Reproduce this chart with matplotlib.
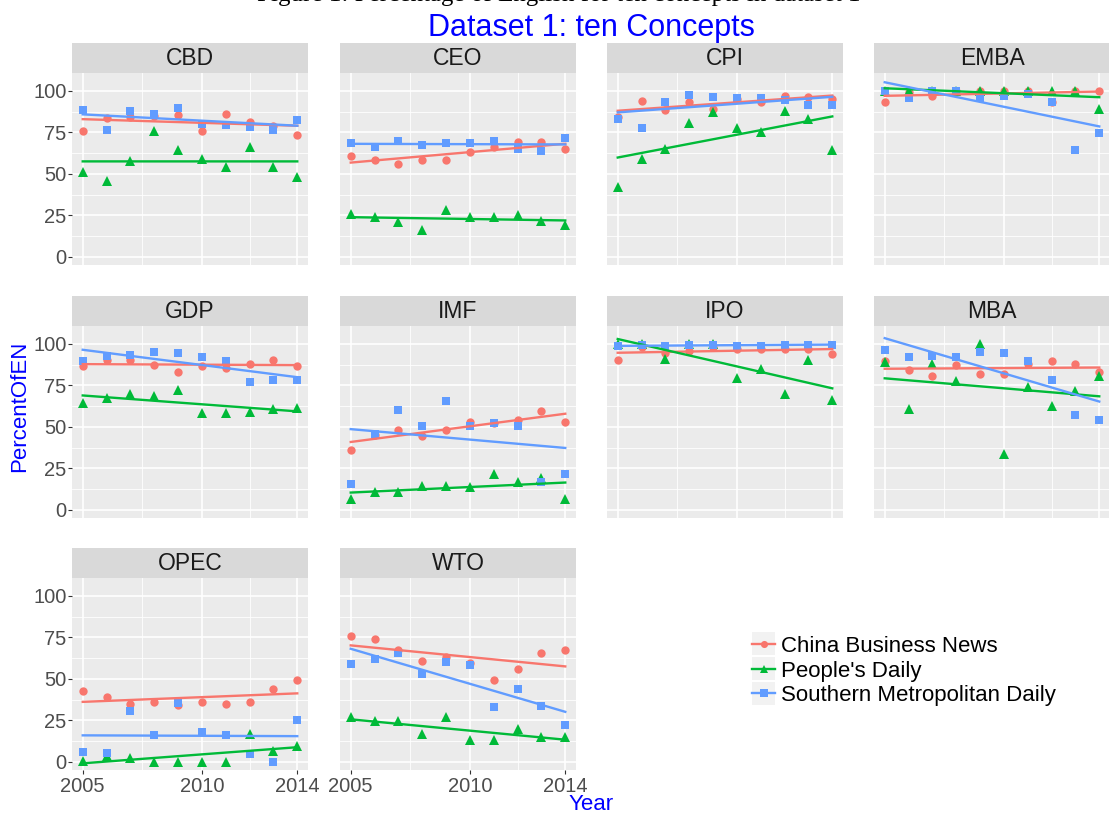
import matplotlib
matplotlib.use("Agg")
import matplotlib.pyplot as plt
import numpy as np
from matplotlib.lines import Line2D
from matplotlib.patches import Rectangle

plt.rcParams['font.family'] = ['Liberation Sans', 'DejaVu Sans']

years = list(range(2005, 2015))
concepts = ["CBD", "CEO", "CPI", "EMBA", "GDP", "IMF", "IPO", "MBA", "OPEC", "WTO"]
series_names = ["China Business News", "People's Daily", "Southern Metropolitan Daily"]

# China Business News (cbn), People's Daily (pd), Southern Metropolitan Daily (smd)
cbd_cbn = [75.9, 83.5, 84.0, 85.0, 85.3, 75.9, 86.3, 81.5, 79.0, 73.3]
cbd_pd = [50.8, 45.8, 57.8, 75.9, 64.1, 58.8, 54.0, 65.9, 54.0, 47.8]
cbd_smd = [88.2, 76.3, 87.6, 86.1, 89.6, 79.9, 79.3, 78.1, 76.5, 82.7]

ceo_cbn = [60.8, 58.4, 55.8, 58.4, 58.4, 63.3, 65.9, 69.3, 69.1, 65.1]
ceo_pd = [25.9, 24.1, 20.7, 15.9, 28.1, 24.1, 24.1, 24.9, 21.7, 19.1]
ceo_smd = [68.5, 66.3, 69.9, 67.3, 68.3, 68.5, 69.9, 65.1, 63.5, 71.7]

cpi_cbn = [84.0, 94.0, 88.4, 93.4, 89.0, 95.0, 93.6, 97.2, 96.4, 95.2]
cpi_pd = [42.2, 59.0, 64.9, 80.7, 87.1, 77.9, 75.3, 88.0, 82.9, 64.1]
cpi_smd = [83.3, 77.7, 93.2, 97.6, 96.2, 96.0, 95.8, 94.6, 91.4, 91.6]

emba_cbn = [93.2, 99.5, 97.0, 100.0, 100.0, 100.0, 100.0, 93.6, 100.0, 100.0]
emba_pd = [100.0, 100.0, 100.0, 100.0, 100.0, 100.0, 100.0, 100.0, 100.0, 89.0]
emba_smd = [100.0, 96.0, 100.0, 100.0, 95.6, 97.2, 98.0, 93.2, 64.5, 74.5]

gdp_cbn = [86.9, 90.4, 90.0, 87.1, 82.9, 86.9, 85.5, 88.0, 90.4, 86.9]
gdp_pd = [64.5, 67.5, 69.9, 68.7, 72.5, 58.6, 58.6, 58.8, 60.6, 61.4]
gdp_smd = [89.8, 92.6, 93.6, 95.4, 94.6, 92.0, 89.8, 77.3, 78.5, 78.3]

imf_cbn = [36.1, 45.0, 48.2, 44.2, 48.2, 53.2, 52.0, 54.4, 59.4, 53.0]
imf_pd = [6.4, 10.8, 10.8, 14.0, 14.0, 13.7, 21.7, 16.5, 19.3, 6.4]
imf_smd = [15.7, 45.4, 60.4, 50.6, 65.5, 50.6, 52.2, 50.6, 16.9, 21.3]

ipo_cbn = [90.2, 98.0, 94.4, 95.6, 98.0, 97.0, 97.0, 96.8, 96.8, 94.0]
ipo_pd = [100.0, 100.0, 90.6, 100.0, 100.0, 79.5, 84.9, 69.5, 90.4, 65.9]
ipo_smd = [98.6, 99.2, 98.6, 99.6, 99.6, 98.6, 99.0, 99.6, 99.6, 99.6]

mba_cbn = [89.4, 84.0, 80.9, 87.3, 82.1, 82.1, 87.6, 89.4, 88.0, 83.0]
mba_pd = [88.8, 60.8, 88.0, 77.5, 100.0, 33.7, 74.3, 62.7, 71.7, 80.7]
mba_smd = [96.4, 92.2, 92.8, 92.2, 95.2, 94.6, 89.8, 78.5, 57.4, 54.4]

opec_cbn = [42.8, 39.2, 34.7, 35.9, 34.1, 36.3, 34.7, 35.9, 44.0, 49.0]
opec_pd = [0.2, 3.6, 2.2, 0.0, 0.0, 0.0, 0.0, 16.7, 6.6, 9.6]
opec_smd = [6.0, 5.2, 30.3, 16.1, 35.3, 17.7, 16.1, 4.6, 0.0, 25.3]

wto_cbn = [75.7, 73.9, 67.5, 60.8, 63.3, 59.4, 49.0, 55.8, 65.7, 67.1]
wto_pd = [26.7, 24.5, 24.5, 16.7, 26.7, 13.0, 13.0, 19.7, 14.7, 14.7]
wto_smd = [58.8, 62.0, 65.7, 52.8, 60.4, 58.4, 32.9, 44.0, 33.9, 22.1]

panel_data = {
    "CBD": [cbd_cbn, cbd_pd, cbd_smd],
    "CEO": [ceo_cbn, ceo_pd, ceo_smd],
    "CPI": [cpi_cbn, cpi_pd, cpi_smd],
    "EMBA": [emba_cbn, emba_pd, emba_smd],
    "GDP": [gdp_cbn, gdp_pd, gdp_smd],
    "IMF": [imf_cbn, imf_pd, imf_smd],
    "IPO": [ipo_cbn, ipo_pd, ipo_smd],
    "MBA": [mba_cbn, mba_pd, mba_smd],
    "OPEC": [opec_cbn, opec_pd, opec_smd],
    "WTO": [wto_cbn, wto_pd, wto_smd],
}

x_ticks = [2005, 2010, 2014]
y_ticks = [0, 25, 50, 75, 100]

colors = ["#F8766D", "#00BA38", "#619CFF"]
markers = ["o", "^", "s"]
msizes = [6.0, 7.0, 6.0]

W, H = 1109, 816
fig = plt.figure(figsize=(W / 100, H / 100), dpi=100)
fig.patch.set_facecolor("white")

col_left = [72, 340, 607, 874]
pw = 236
row_top = [73, 326, 578]
ph = 192
strip_h = 30


def fx(x):
    return x / W


def fy(y):
    return 1 - y / H


for i, c in enumerate(concepts):
    r, k = divmod(i, 4)
    l = col_left[k]
    t = row_top[r]
    ax = fig.add_axes([fx(l), fy(t + ph), pw / W, ph / H])
    sax = fig.add_axes([fx(l), fy(t), pw / W, strip_h / H])

    ax.set_facecolor("#EBEBEB")
    for s in ax.spines.values():
        s.set_visible(False)
    ax.set_xlim(2004.55, 2014.45)
    ax.set_ylim(-5.0, 110.8)
    ax.set_xticks(x_ticks)
    ax.set_xticks([2007.5, 2012], minor=True)
    ax.set_yticks(y_ticks)
    ax.set_yticks([12.5, 37.5, 62.5, 87.5], minor=True)
    ax.grid(which="major", color="white", lw=1.2)
    ax.grid(which="minor", color="white", lw=0.6)
    ax.set_axisbelow(True)
    ax.tick_params(which="minor", length=0)
    show_y = (k == 0)
    show_x = (r == 2)
    ax.tick_params(axis="y", which="major", length=3 if show_y else 0, width=0.8,
                   color="#333333", labelsize=14.5, labelcolor="#4D4D4D", pad=1,
                   labelleft=show_y)
    ax.tick_params(axis="x", which="major", length=3 if show_x else 0, width=0.8,
                   color="#333333", labelsize=14.5, labelcolor="#4D4D4D", pad=2,
                   labelbottom=show_x)

    data = panel_data[c]
    for j, vals in enumerate(data):
        ax.plot(years, vals, linestyle="none", marker=markers[j], ms=msizes[j],
                color=colors[j], markeredgewidth=0, zorder=3)
    for j, vals in enumerate(data):
        p = np.polyfit(years, vals, 1)
        ax.plot(years, np.polyval(p, years), color=colors[j], lw=1.7, zorder=4)

    sax.set_facecolor("#D9D9D9")
    for s in sax.spines.values():
        s.set_visible(False)
    sax.set_xticks([])
    sax.set_yticks([])
    sax.text(0.5, 0.47, c, ha="center", va="center", fontsize=16.5,
             color="#1A1A1A", transform=sax.transAxes)

# caption of the source figure, mostly cut off at the top edge as in the reference
fig.text(fx(559), fy(1.5), "Figure 1: Percentage of English for ten concepts in dataset 1",
         ha="center", va="baseline", fontsize=18, color="black",
         family=["Liberation Serif", "DejaVu Serif"])

fig.text(fx(591), fy(36), "Dataset 1: ten Concepts", ha="center", va="baseline",
         fontsize=22, color="blue")
fig.text(fx(20), fy(406), "PercentOfEN", rotation=90, ha="center", va="center",
         fontsize=16, color="blue")
fig.text(fx(591), fy(805), "Year", ha="center", va="center", fontsize=16, color="blue")

handles = [Line2D([0], [0], color=colors[j], marker=markers[j], ms=msizes[j] * 0.85,
                  lw=1.7, markeredgewidth=0) for j in range(3)]
leg = fig.legend(handles, series_names, loc="center left",
                 bbox_to_anchor=(fx(752), fy(671)), frameon=False, fontsize=16,
                 handlelength=1.05, handletextpad=0.25, labelspacing=0.17,
                 borderpad=0, borderaxespad=0)

fig.canvas.draw()
renderer = fig.canvas.get_renderer()
for h in leg.legend_handles:
    bb = h.get_window_extent(renderer)
    cx = (bb.x0 + bb.x1) / 2
    cy = (bb.y0 + bb.y1) / 2
    fig.patches.append(Rectangle(((cx - 11.5) / W, (cy - 11.5) / H), 23 / W, 23 / H,
                                 transform=fig.transFigure, facecolor="#F2F2F2",
                                 edgecolor="none", zorder=0))

fig.savefig("out.png", dpi=100)
